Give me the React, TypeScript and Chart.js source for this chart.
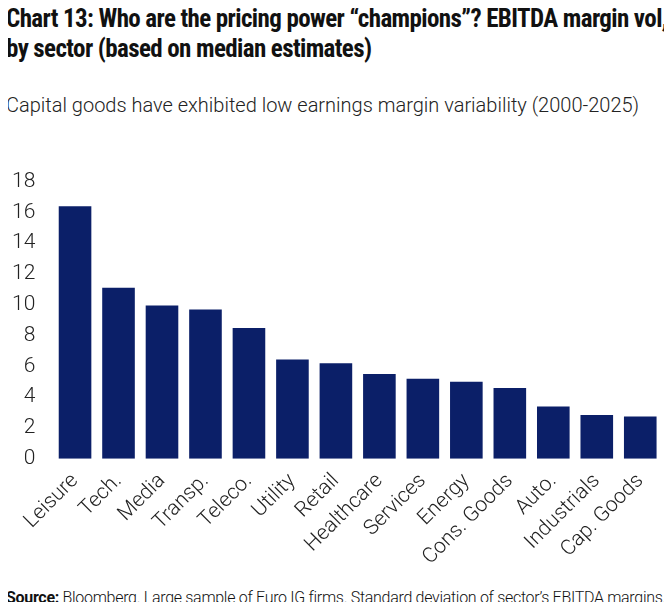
import React, { useEffect, useRef } from "react";
import { Chart, registerables } from "chart.js";
Chart.register(...registerables);

const categories = ["Leisure","Tech.","Media","Transp.","Teleco.","Utility","Retail","Healthcare","Services","Energy","Cons. Goods","Auto.","Industrials","Cap. Goods"];
const values = [16.4,11.1,9.95,9.7,8.5,6.45,6.2,5.5,5.2,5.0,4.6,3.4,2.85,2.75];
const yTicks = [0,2,4,6,8,10,12,14,16,18];

export default function App() {
  const ref = useRef<HTMLCanvasElement>(null);
  useEffect(() => {
    const c = new Chart(ref.current!, {
      type: "bar",
      data: { labels: categories, datasets: [{ data: values, backgroundColor: "#0b1f68", barPercentage: 0.75, categoryPercentage: 1 }] },
      options: {
        animation: false, responsive: false,
        plugins: { legend: { display: false }, tooltip: { enabled: false } },
        layout: { padding: { right: 4 } },
        scales: {
          y: { min: 0, max: 18, afterBuildTicks: (a: any) => { a.ticks = yTicks.map(v => ({ value: v })); },
               grid: { display: false }, border: { display: false },
               ticks: { color: "#222", font: { family: "Roboto", size: 21, weight: 300 }, padding: 10 } },
          x: { grid: { display: false }, border: { display: false },
               ticks: { color: "#222", maxRotation: 45, minRotation: 45, font: { family: "Roboto", size: 21, weight: 300 }, padding: 2 } },
        },
      },
    });
    return () => c.destroy();
  }, []);
  return (
    <div style={{ width: 672, height: 610, position: "relative", margin: -8, fontFamily: "Roboto", color: "#111", overflow: "hidden", background: "#fff" }}>
      <div style={{ position: "absolute", left: 6, top: 4, fontFamily: "'Roboto Condensed', Roboto", fontWeight: 700, fontSize: 25, lineHeight: "30px", letterSpacing: -0.6, whiteSpace: "nowrap" }}>
        Chart 13: Who are the pricing power “champions”? EBITDA margin vol,<br />by sector (based on median estimates)
      </div>
      <div style={{ position: "absolute", left: 6, top: 93, fontWeight: 300, fontSize: 20, color: "#222", whiteSpace: "nowrap" }}>
        Capital goods have exhibited low earnings margin variability (2000-2025)
      </div>
      <canvas ref={ref} width={664} height={413} style={{ position: "absolute", left: 2, top: 159 }} />
      <div style={{ position: "absolute", left: 6, top: 588, fontSize: 16, fontWeight: 300, whiteSpace: "nowrap", letterSpacing: -0.3 }}>
        <b style={{ fontWeight: 700 }}>Source:</b> Bloomberg. Large sample of Euro IG firms. Standard deviation of sector’s EBITDA margins.
      </div>
    </div>
  );
}
